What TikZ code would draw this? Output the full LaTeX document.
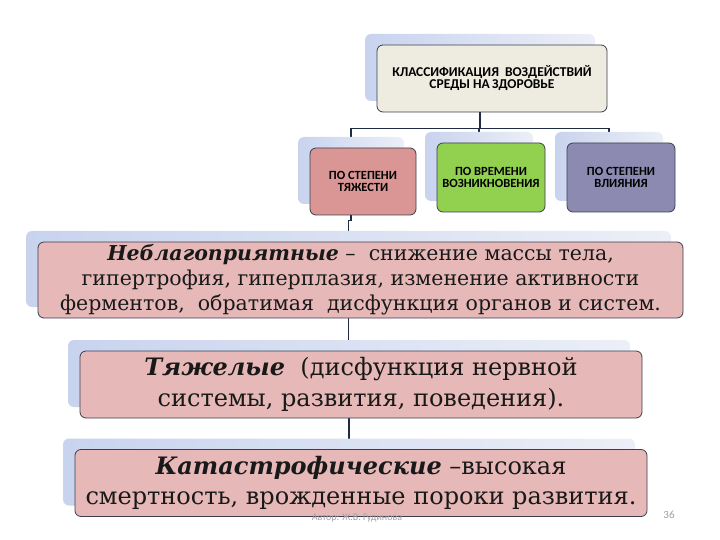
\documentclass[tikz,border=0pt]{standalone}
\usepackage{fontspec}
\setmainfont{DejaVu Serif}
\newfontfamily\capsfont{Carlito}
\usetikzlibrary{shadows, backgrounds}
\definecolor{mline}{HTML}{1F2A44}
\definecolor{mborder}{HTML}{3A3F4F}
\definecolor{mtan}{HTML}{EEECE1}
\definecolor{mrose}{HTML}{D99694}
\definecolor{mgreen}{HTML}{92D050}
\definecolor{mviolet}{HTML}{8D8AB2}
\definecolor{mpink}{HTML}{E6B9B8}
\definecolor{mshadeL}{HTML}{C8D3EE}
\definecolor{mshadeR}{HTML}{ECEFF7}
\definecolor{mfoot}{HTML}{A0A0A0}
\tikzset{
  ghost/.style={general shadow={shadow xshift=-12pt, shadow yshift=11pt,
                left color=mshadeL, right color=mshadeR}},
  hbox/.style={ghost, draw=mborder, line width=0.8pt, rounded corners=6pt,
               align=center, inner sep=2pt},
  capbox/.style={hbox, font=\capsfont\bfseries\fontsize{12.5}{12}\selectfont},
  textbox/.style={hbox, text=black!90},
  conn/.style={draw=mline, line width=1.4pt},
}

\begin{document}
\begin{tikzpicture}[x=1pt, y=-1pt]
    \useasboundingbox (0,0) rectangle (720,540);
    \node[capbox, fill=mtan, minimum width=230pt, minimum height=67pt,
          font=\capsfont\bfseries\fontsize{13.5}{12}\selectfont] (cls) at (492,78.5)
        {КЛАССИФИКАЦИЯ\ \ ВОЗДЕЙСТВИЙ\\СРЕДЫ НА\,ЗДОРОВЬЕ};
    \node[capbox, fill=mrose, minimum width=106pt, minimum height=67pt] (sev) at (363,181.5)
        {ПО СТЕПЕНИ\\ТЯЖЕСТИ};
    \node[capbox, fill=mgreen, minimum width=108pt, minimum height=69pt] (time) at (491,177.5)
        {ПО ВРЕМЕНИ\\ВОЗНИКНОВЕНИЯ};
    \node[capbox, fill=mviolet, minimum width=108pt, minimum height=69pt] (infl) at (621,177.5)
        {ПО СТЕПЕНИ\\ВЛИЯНИЯ};
    \node[textbox, fill=mpink, minimum width=645pt, minimum height=76pt,
          font=\fontsize{20.5}{25}\selectfont] (unf) at (360.5,280)
        {\textbf{\textit{Неблагоприятные}} –\ \ снижение массы тела,\\
         гипертрофия, гиперплазия, изменение активности\\
         ферментов,\ \ обратимая\ \ дисфункция органов и систем.};
    \node[textbox, fill=mpink, minimum width=562pt, minimum height=67pt,
          font=\fontsize{24}{31}\selectfont] (heavy) at (361,384.5)
        {\textbf{\textit{Тяжелые}}\ \ (дисфункция нервной\\
         системы, развития, поведения).};
    \node[textbox, fill=mpink, minimum width=572pt, minimum height=67pt,
          font=\fontsize{24}{30}\selectfont] (cat) at (361,483)
        {\textbf{\textit{Катастрофические}} –высокая\\
         смертность, врожденные пороки развития.};
    \node[font=\capsfont\fontsize{10}{12}\selectfont, text=mfoot] (author) at (357,518)
        {Автор: Ж.В. Гудинова};
    \node[font=\capsfont\fontsize{11}{12}\selectfont, text=mfoot] (page) at (669,515) {36};

    \begin{scope}[on background layer]
      \draw[conn] ([xshift=-12pt]cls.south) -- ++(0,16) coordinate (fork);
      \draw[conn] (fork) -| ([xshift=-12pt]sev.north);
      \draw[conn] (fork) -| ([xshift=-12pt]time.north);
      \draw[conn] (fork) -| ([xshift=-12pt]infl.north);
      \draw[conn] ([xshift=-12pt]sev.south) -- ++(0,5) -| ([xshift=-12pt]unf.north);
      \draw[conn] ([xshift=-12pt]unf.south) -- ([xshift=-12pt]unf.south |- heavy.north);
      \draw[conn] ([xshift=-12pt]heavy.south) -- ([xshift=-12pt]heavy.south |- cat.north);
    \end{scope}
\end{tikzpicture}
\end{document}
